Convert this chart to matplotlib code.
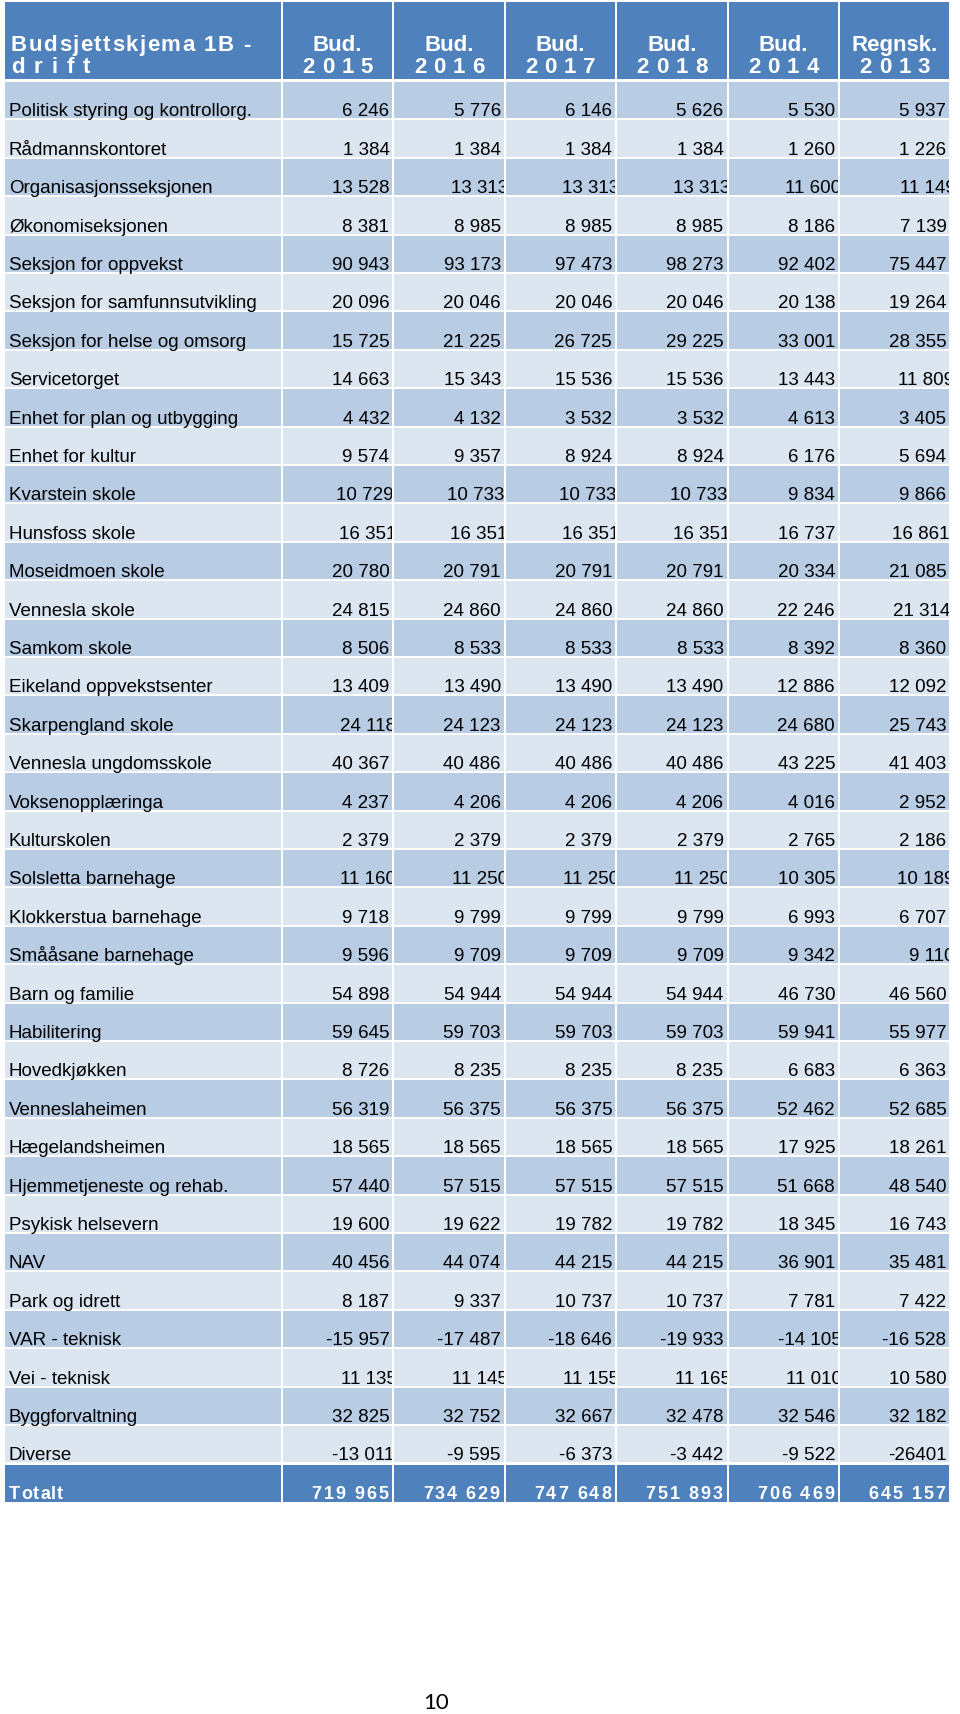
import matplotlib.pyplot as plt
from matplotlib.patches import Rectangle
from matplotlib.transforms import Bbox

# budsjettskjema 1B - drift (tall i 1000 kr)
title = ["Budsjettskjema 1B -", "drift"]
col_heads = [("Bud.", "2015"), ("Bud.", "2016"), ("Bud.", "2017"),
             ("Bud.", "2018"), ("Bud.", "2014"), ("Regnsk.", "2013")]

labels = [
    "Politisk styring og kontrollorg.", "Rådmannskontoret", "Organisasjonsseksjonen",
    "Økonomiseksjonen", "Seksjon for oppvekst", "Seksjon for samfunnsutvikling",
    "Seksjon for helse og omsorg", "Servicetorget", "Enhet for plan og utbygging",
    "Enhet for kultur", "Kvarstein skole", "Hunsfoss skole", "Moseidmoen skole",
    "Vennesla skole", "Samkom skole", "Eikeland oppvekstsenter", "Skarpengland skole",
    "Vennesla ungdomsskole", "Voksenopplæringa", "Kulturskolen", "Solsletta barnehage",
    "Klokkerstua barnehage", "Smååsane barnehage", "Barn og familie", "Habilitering",
    "Hovedkjøkken", "Venneslaheimen", "Hægelandsheimen", "Hjemmetjeneste og rehab.",
    "Psykisk helsevern", "NAV", "Park og idrett", "VAR - teknisk", "Vei - teknisk",
    "Byggforvaltning", "Diverse",
]

bud2015 = [6246, 1384, 13528, 8381, 90943, 20096, 15725, 14663, 4432, 9574, 10729, 16351,
           20780, 24815, 8506, 13409, 24118, 40367, 4237, 2379, 11160, 9718, 9596, 54898,
           59645, 8726, 56319, 18565, 57440, 19600, 40456, 8187, -15957, 11135, 32825, -13011]
bud2016 = [5776, 1384, 13313, 8985, 93173, 20046, 21225, 15343, 4132, 9357, 10733, 16351,
           20791, 24860, 8533, 13490, 24123, 40486, 4206, 2379, 11250, 9799, 9709, 54944,
           59703, 8235, 56375, 18565, 57515, 19622, 44074, 9337, -17487, 11145, 32752, -9595]
bud2017 = [6146, 1384, 13313, 8985, 97473, 20046, 26725, 15536, 3532, 8924, 10733, 16351,
           20791, 24860, 8533, 13490, 24123, 40486, 4206, 2379, 11250, 9799, 9709, 54944,
           59703, 8235, 56375, 18565, 57515, 19782, 44215, 10737, -18646, 11155, 32667, -6373]
bud2018 = [5626, 1384, 13313, 8985, 98273, 20046, 29225, 15536, 3532, 8924, 10733, 16351,
           20791, 24860, 8533, 13490, 24123, 40486, 4206, 2379, 11250, 9799, 9709, 54944,
           59703, 8235, 56375, 18565, 57515, 19782, 44215, 10737, -19933, 11165, 32478, -3442]
bud2014 = [5530, 1260, 11600, 8186, 92402, 20138, 33001, 13443, 4613, 6176, 9834, 16737,
           20334, 22246, 8392, 12886, 24680, 43225, 4016, 2765, 10305, 6993, 9342, 46730,
           59941, 6683, 52462, 17925, 51668, 18345, 36901, 7781, -14105, 11010, 32546, -9522]
regn2013 = [5937, 1226, 11149, 7139, 75447, 19264, 28355, 11809, 3405, 5694, 9866, 16861,
            21085, 21314, 8360, 12092, 25743, 41403, 2952, 2186, 10189, 6707, 9110, 46560,
            55977, 6363, 52685, 18261, 48540, 16743, 35481, 7422, -16528, 10580, 32182, -26401]
columns = [bud2015, bud2016, bud2017, bud2018, bud2014, regn2013]

total_label = "Totalt"
totals = [719965, 734629, 747648, 751893, 706469, 645157]
page_no = "10"

# cells where the number runs past the cell edge and gets cut (row, col): px
overflow = {(2, 1): 5, (2, 2): 5, (2, 3): 5, (2, 4): 4, (2, 5): 7, (7, 5): 6,
            (10, 0): 2, (10, 1): 2, (10, 2): 2, (10, 3): 2,
            (11, 0): 5, (11, 1): 5, (11, 2): 5, (11, 3): 5, (11, 5): 1, (13, 5): 2,
            (16, 0): 5, (20, 0): 5, (20, 1): 5, (20, 2): 5, (20, 3): 5, (20, 5): 6,
            (22, 5): 6, (32, 4): 5, (33, 0): 5, (33, 1): 5, (33, 2): 5, (33, 3): 5,
            (33, 4): 5, (35, 0): 3}
no_sep = {(35, 5)}  # printed as "-26401"

HEAD = "#4F81BD"
DARK = "#B8CCE4"
LIGHT = "#DCE6F1"
FONT = "Liberation Sans"

W, H = 960, 1715
fig = plt.figure(figsize=(W / 100, H / 100), dpi=100)
ax = fig.add_axes([0, 0, 1, 1])
ax.set_xlim(0, W)
ax.set_ylim(H, 0)
ax.axis("off")
renderer = fig.canvas.get_renderer()


def fmt(v, sep=True):
    return f"{v:,}".replace(",", " ") if sep else str(v)


def text_w(s, **kw):
    t = ax.text(0, 0, "x" + s + "x", **kw)
    w1 = t.get_window_extent(renderer).width
    t.remove()
    t = ax.text(0, 0, "xx", **kw)
    w0 = t.get_window_extent(renderer).width
    t.remove()
    return w1 - w0


def tracked(x, y, s, track, ha="left", **kw):
    if track == 0:
        return ax.text(x, y, s, ha=ha, va="baseline", **kw)
    widths = [text_w(c, **kw) for c in s]
    total = sum(widths) + track * (len(s) - 1)
    x0 = x - total / 2 if ha == "center" else (x - total if ha == "right" else x)
    for c, w in zip(s, widths):
        if c != " ":
            ax.text(x0, y, c, ha="left", va="baseline", **kw)
        x0 += w + track


def clip_bbox(x, y, w, h):
    p = ax.transData.transform([[x, y], [x + w, y + h]])
    return Bbox([[p[:, 0].min(), p[:, 1].min()], [p[:, 0].max(), p[:, 1].max()]])


lab_x0, lab_x1 = 5, 281
num_x0, pitch, cw = 283, 111.4, 109.4
row_y0, row_h, gap = 83, 38.4, 2


def cell(x, y, w, h, color):
    r = Rectangle((x, y), w, h, facecolor=color, edgecolor="none")
    ax.add_patch(r)
    return r


# header
cell(lab_x0, 3, lab_x1 - lab_x0, 77, HEAD)
hk = dict(fontfamily=FONT, fontsize=16, fontweight="bold", color="white")
tracked(11, 51, title[0], 1.5, **hk)
tracked(11, 73, title[1], 9, **hk)
for j, (a, b) in enumerate(col_heads):
    x = num_x0 + j * pitch
    cell(x, 3, cw, 77, HEAD)
    cx = x + cw / 2
    tracked(cx, 51, a, 0, ha="center", **hk)
    tracked(cx, 73, b, 7, ha="center", **hk)

# body
dk = dict(fontfamily=FONT, fontsize=13.5, color="black")
for i, lab in enumerate(labels):
    y = row_y0 + i * row_h
    h = row_h - gap
    color = DARK if i % 2 == 0 else LIGHT
    cell(lab_x0, y, lab_x1 - lab_x0, h, color)
    ax.text(9, y + h - 3, lab, ha="left", va="baseline", **dk)
    for j, col in enumerate(columns):
        x = num_x0 + j * pitch
        cell(x, y, cw, h, color)
        ov = overflow.get((i, j))
        xr = x + cw - 3 if ov is None else x + cw - 1 + ov
        t = ax.text(xr, y + h - 3, fmt(col[i], (i, j) not in no_sep),
                    ha="right", va="baseline", clip_on=True, **dk)
        t.set_clip_path(None)
        t.set_clip_box(clip_bbox(x, y, cw, h))

# total row
ty = row_y0 + len(labels) * row_h + 1
cell(lab_x0, ty, lab_x1 - lab_x0, 37, HEAD)
tk = dict(fontfamily=FONT, fontsize=13, fontweight="bold", color="white")
tracked(9, ty + 33, total_label, 1, **tk)
for j, v in enumerate(totals):
    x = num_x0 + j * pitch
    cell(x, ty, cw, 37, HEAD)
    tracked(x + cw - 4, ty + 33, fmt(v), 2, ha="right", **tk)

ax.text(436, 1709, page_no, ha="center", va="baseline", fontfamily="Lato",
        fontsize=16, color="black")

fig.savefig("out.png", dpi=100, facecolor="white")
